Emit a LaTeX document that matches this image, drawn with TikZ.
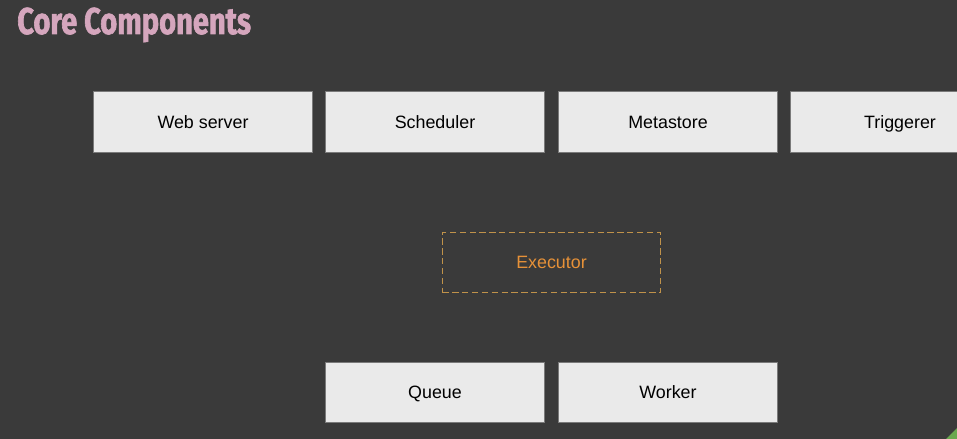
\documentclass[tikz,border=0pt]{standalone}
\usepackage{fontspec}
\setmainfont{Liberation Sans}
\newfontfamily\titlefont[FakeStretch=0.78, FakeBold=1.6]{Fira Sans}
\usepackage{xcolor}
\usetikzlibrary{positioning}
\definecolor{slidebg}{HTML}{3A3A3A}
\definecolor{boxfill}{HTML}{EAEAEA}
\definecolor{boxline}{HTML}{7A7A7A}
\definecolor{titlepink}{HTML}{D5A6BD}
\definecolor{execline}{HTML}{C0924A}
\definecolor{exectext}{HTML}{E69138}
\definecolor{cornergreen}{HTML}{6AA84F}

\begin{document}
\begin{tikzpicture}[x=0.025cm, y=-0.025cm,
  font=\fontsize{12.7}{15}\selectfont,
  comp/.style={draw=boxline, fill=boxfill, line width=0.7pt, text=black,
               minimum width=5.45cm, minimum height=1.5cm, inner sep=0pt,
               text height=0.9em, text depth=0pt},
  exec/.style={draw=execline, dash pattern=on 4.5pt off 2.5pt, line width=0.8pt,
               text=exectext, minimum width=5.45cm, minimum height=1.5cm,
               inner sep=0pt, text height=0.9em, text depth=0pt}]
\fill[slidebg] (0,0) rectangle (957,439);
\clip (0,0) rectangle (957,439);
\node[anchor=base west, text=titlepink, inner sep=0pt,
      font=\titlefont\bfseries\fontsize{26.5}{29}\selectfont] (title) at (17,34) {Core Components};
% top row
\node[comp] (web)   at (203,122) {Web server};
\node[comp] (sched) at (435,122) {Scheduler};
\node[comp] (meta)  at (668,122) {Metastore};
\node[comp] (trig)  at (900,122) {Triggerer};
% executor
\node[exec] (executor) at (551.5,262.5) {Executor};
% bottom row
\node[comp] (queue)  at (435,392) {Queue};
\node[comp] (worker) at (668,392) {Worker};
\fill[cornergreen] (957,428) -- (957,439) -- (946,439) -- cycle;
\end{tikzpicture}
\end{document}
